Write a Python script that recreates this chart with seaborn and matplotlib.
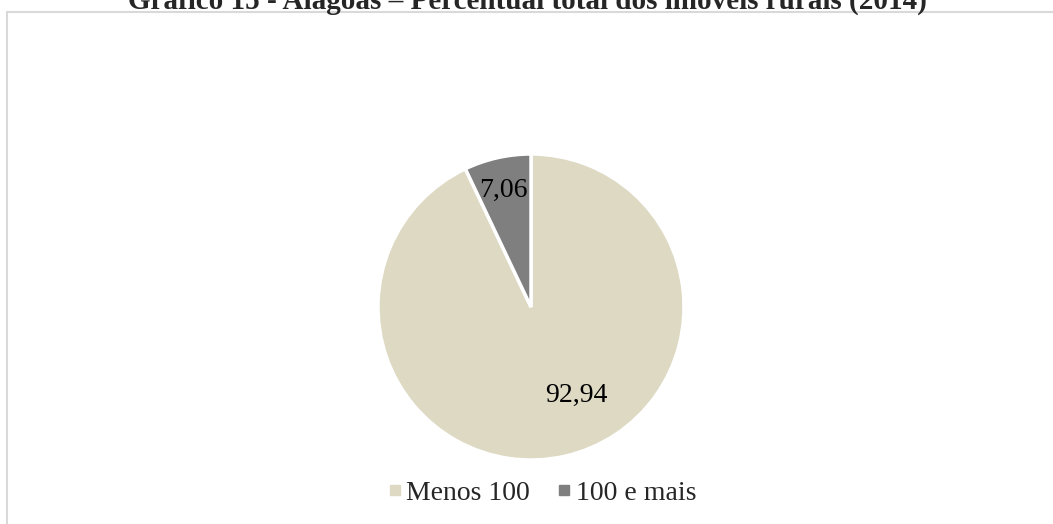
import matplotlib
matplotlib.use("Agg")
import matplotlib.pyplot as plt
import seaborn as sns
from matplotlib.lines import Line2D

categorias = ["Menos 100", "100 e mais"]
valores = [92.94, 7.06]
rotulos = ["92,94", "7,06"]
cores = ["#DDD9C3", "#7F7F7F"]
titulo = "Gráfico 15 - Alagoas – Percentual total dos imóveis rurais (2014)"

sns.set_theme(style="white")
plt.rcParams["font.family"] = ["Liberation Serif", "DejaVu Serif"]

W, H = 1053, 524
fig = plt.figure(figsize=(W / 100, H / 100), dpi=100)

# light frame (chart area border, partly outside the image)
fig.add_artist(Line2D([7 / W, 1], [1 - 12 / H, 1 - 12 / H], color="#D9D9D9", lw=1.5))
fig.add_artist(Line2D([7 / W, 7 / W], [0, 1 - 12 / H], color="#D9D9D9", lw=1.5))

# title sits partly above the top edge, as in the original
fig.text(527 / W, 1 - 8.5 / H, titulo, ha="center", va="baseline",
         fontsize=21, fontweight="bold")

r = 153
ax = fig.add_axes([(531 - r) / W, (H - 307 - r) / H, 2 * r / W, 2 * r / H])
wedges, _ = ax.pie(valores, colors=cores, startangle=90, counterclock=False,
                   wedgeprops=dict(edgecolor="white", linewidth=2.5))
ax.set_xlim(-1, 1)
ax.set_ylim(-1, 1)
ax.set_aspect("equal")
ax.axis("off")

# data labels, positioned like the Excel original
pos = [(0.294, -0.575), (-0.183, 0.765)]
for (x, y), t in zip(pos, rotulos):
    ax.text(x, y, t, ha="center", va="center", fontsize=20, color="black")

handles = [Line2D([], [], marker="s", linestyle="", markersize=7,
                  markerfacecolor=c, markeredgecolor=c) for c in cores]
fig.legend(handles, categorias, loc="center", bbox_to_anchor=(542 / W, 1 - 493 / H),
           ncol=2, frameon=False, fontsize=20, handlelength=0.5, handletextpad=0.15,
           columnspacing=1.0, borderpad=0)

fig.savefig("out.png", dpi=100)
